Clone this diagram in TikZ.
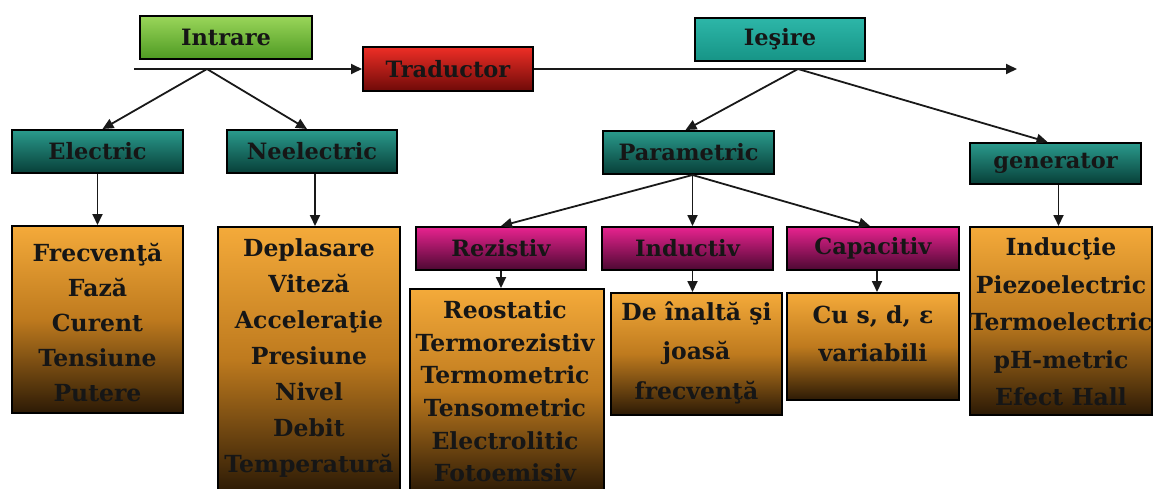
\documentclass[tikz,border=0pt]{standalone}
\usepackage{fontspec}
\setmainfont{DejaVu Serif}
\usetikzlibrary{arrows.meta}
\definecolor{grT}{HTML}{9AD65A}
\definecolor{grB}{HTML}{4E9A22}
\definecolor{rdT}{HTML}{EE2E26}
\definecolor{rdB}{HTML}{6E0A08}
\definecolor{tlT}{HTML}{2DB6A8}
\definecolor{tlB}{HTML}{169486}
\definecolor{tdT}{HTML}{2A9A8C}
\definecolor{tdB}{HTML}{073F38}
\definecolor{mgT}{HTML}{E8238F}
\definecolor{mgB}{HTML}{4C0832}
\definecolor{orT}{HTML}{F4AA3A}
\definecolor{orM}{HTML}{BE7A1E}
\definecolor{orB}{HTML}{2C1A05}
\definecolor{ink}{HTML}{161616}
\begin{document}
\begin{tikzpicture}[x=1pt,y=-1pt,
  box/.style={draw=black, line width=2pt, inner sep=0pt, text=ink,
    font=\bfseries\fontsize{22.5}{26}\selectfont},
  greenbox/.style={box, top color=grT, bottom color=grB},
  redbox/.style={box, top color=rdT, bottom color=rdB},
  lightteal/.style={box, top color=tlT, bottom color=tlB},
  darkteal/.style={box, top color=tdT, bottom color=tdB},
  magbox/.style={box, top color=mgT, bottom color=mgB},
  orbox/.style={draw=black, line width=2pt, inner sep=0pt,
    top color=orT, bottom color=orB, middle color=orM},
  lines/.style={inner sep=0pt, align=center, text=ink},
  conn/.style={draw=black!90, line width=1.8pt, -{Triangle[length=11pt,width=10pt]}}
]
\path[use as bounding box, clip] (0,0) rectangle (1158,488);
\fill[white] (0,0) rectangle (1158,488);

% top row
\node[greenbox, minimum width=172pt, minimum height=43pt] (intrare) at (226,37.5) {Intrare};
\node[redbox, minimum width=170pt, minimum height=44pt] (traductor) at (448,69) {Traductor};
\node[lightteal, minimum width=170pt, minimum height=43pt] (iesire) at (780,39.5) {Ieşire};

\coordinate (s) at (134,69);
\coordinate (j1) at (207,69);
\coordinate (j2) at (798,69);
\coordinate (e) at (1017,69);

% second row
\node[darkteal, minimum width=171pt, minimum height=43pt] (electric) at (97.5,151.5) {Electric};
\node[darkteal, minimum width=170pt, minimum height=43pt] (neelectric) at (312,151.5) {Neelectric};
\node[darkteal, minimum width=171pt, minimum height=43pt] (parametric) at (688.5,152.5) {Parametric};
\node[darkteal, minimum width=171pt, minimum height=41pt] (generator) at (1055.5,163.5) {generator};

% third row
\node[magbox, minimum width=170pt, minimum height=43pt] (rezistiv) at (501,248.5) {Rezistiv};
\node[magbox, minimum width=171pt, minimum height=43pt] (inductiv) at (687.5,248.5) {Inductiv};
\node[magbox, minimum width=172pt, minimum height=43pt] (capacitiv) at (873,248.5) {Capacitiv};

% orange boxes
\node[orbox, minimum width=171pt, minimum height=187pt] (frecv) at (97.5,319.5) {};
\node[lines, font=\bfseries\fontsize{23.5}{35}\selectfont] (frecvT) at (97.5,323)
  {Frecvenţă\\Fază\\Curent\\Tensiune\\Putere};

\node[orbox, minimum width=182pt, minimum height=265pt] (depl) at (309,359.5) {};
\node[lines, font=\bfseries\fontsize{23.5}{36}\selectfont] (deplT) at (309,358.5)
  {Deplasare\\Viteză\\Acceleraţie\\Presiune\\Nivel\\Debit\\Temperatură};

\node[orbox, minimum width=194pt, minimum height=203pt] (reost) at (507,390.5) {};
\node[lines, font=\bfseries\fontsize{23.5}{32.6}\selectfont] (reostT) at (505,391.5)
  {Reostatic\\Termorezistiv\\Termometric\\Tensometric\\Electrolitic\\Fotoemisiv};

\node[orbox, minimum width=171pt, minimum height=122pt] (inalta) at (696.5,354) {};
\node[lines, font=\bfseries\fontsize{23.5}{39.5}\selectfont] (inaltaT) at (696.5,352.5)
  {De înaltă şi\\joasă\\frecvenţă};

\node[orbox, minimum width=172pt, minimum height=107pt] (cus) at (873,346.5) {};
\node[lines, font=\bfseries\fontsize{23.5}{38}\selectfont] (cusT) at (873,334)
  {Cu s, d, ε\\variabili};

\node[orbox, minimum width=182pt, minimum height=188pt] (inductie) at (1061,321) {};
\node[lines, font=\bfseries\fontsize{23.5}{37.5}\selectfont] (inductieT) at (1061,322)
  {Inducţie\\Piezoelectric\\Termoelectric\\pH-metric\\Efect Hall};

% connectors
\draw[conn] (s) -- (traductor.west);
\draw[conn] (traductor.east) -- (e);
\draw[conn] (j1) -- ([xshift=5pt]electric.north);
\draw[conn] (j1) -- ([xshift=-5pt]neelectric.north);
\draw[conn] (j2) -- ([xshift=-3pt]parametric.north);
\draw[conn] (j2) -- ([xshift=-8pt]generator.north);
\draw[conn] ([xshift=4pt]parametric.south) -- (rezistiv.north);
\draw[conn] ([xshift=4pt]parametric.south) -- ([xshift=5pt]inductiv.north);
\draw[conn] ([xshift=4pt]parametric.south) -- ([xshift=-3pt]capacitiv.north);
\draw[conn] (electric.south) -- (electric.south |- frecv.north);
\draw[conn] ([xshift=3pt]neelectric.south) -- ([xshift=3pt]neelectric.south |- depl.north);
\draw[conn] (rezistiv.south) -- (rezistiv.south |- reost.north);
\draw[conn] ([xshift=5pt]inductiv.south) -- ([xshift=5pt]inductiv.south |- inalta.north);
\draw[conn] ([xshift=4pt]capacitiv.south) -- ([xshift=4pt]capacitiv.south |- cus.north);
\draw[conn] ([xshift=3pt]generator.south) -- ([xshift=3pt]generator.south |- inductie.north);
\end{tikzpicture}
\end{document}
